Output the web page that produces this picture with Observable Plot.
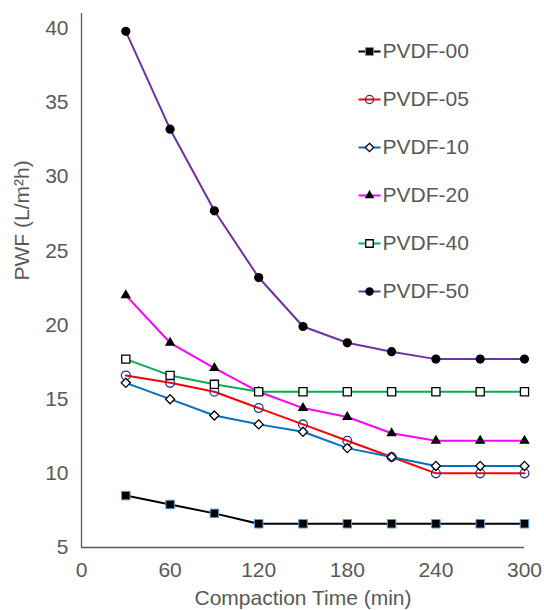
<!DOCTYPE html>
<html>
<head>
<meta charset="utf-8">
<script src="https://cdn.jsdelivr.net/npm/d3@7"></script>
<script src="https://cdn.jsdelivr.net/npm/@observablehq/plot@0.6"></script>
<style>
  html, body { margin: 0; padding: 0; background: #fff; }
  #chart { width: 544px; height: 610px; }
</style>
</head>
<body>
<div id="chart"></div>
<script>
const time = [30, 60, 90, 120, 150, 180, 210, 240, 270, 300];
const pvdf00 = [8.5, 7.9, 7.3, 6.6, 6.6, 6.6, 6.6, 6.6, 6.6, 6.6];
const pvdf05 = [16.6, 16.1, 15.5, 14.4, 13.3, 12.2, 11.1, 10.0, 10.0, 10.0];
const pvdf10 = [16.1, 15.0, 13.9, 13.3, 12.8, 11.7, 11.1, 10.5, 10.5, 10.5];
const pvdf20 = [22.0, 18.8, 17.1, 15.5, 14.4, 13.8, 12.7, 12.2, 12.2, 12.2];
const pvdf40 = [17.7, 16.6, 16.0, 15.5, 15.5, 15.5, 15.5, 15.5, 15.5, 15.5];
const pvdf50 = [39.8, 33.2, 27.7, 23.2, 19.9, 18.8, 18.2, 17.7, 17.7, 17.7];
const seriesNames = ["PVDF-00", "PVDF-05", "PVDF-10", "PVDF-20", "PVDF-40", "PVDF-50"];
const seriesValues = [pvdf00, pvdf05, pvdf10, pvdf20, pvdf40, pvdf50];
const xTicks = [0, 60, 120, 180, 240, 300];
const yTicks = [5, 10, 15, 20, 25, 30, 35, 40];

const styles = [
  {line: "#000000", symbol: "square",   r: 4.8, fill: "#000000", stroke: "#5b9bd5", sw: 1},
  {line: "#ff0000", symbol: "circle",   r: 4.4, fill: "none",    stroke: "#1f3a93", sw: 1.3},
  {line: "#0070c0", symbol: "diamond2", r: 4.1, fill: "white",   stroke: "#000000", sw: 1.3},
  {line: "#ff00ff", symbol: "triangle", r: 3.9, fill: "#000000", stroke: "none",    sw: 0},
  {line: "#00b050", symbol: "square",   r: 4.6, fill: "white",   stroke: "#000000", sw: 1.3},
  {line: "#7030a0", symbol: "circle",   r: 4.6, fill: "#000000", stroke: "none",    sw: 0}
];

const data = seriesNames.flatMap((name, i) =>
  time.map((t, j) => ({series: name, idx: i, time: t, pwf: seriesValues[i][j]})));

const FONT = "'Liberation Sans', Arial, sans-serif";
const GRAY = "#595959";
const FS = 21;

const legendLine = {draw(ctx) { ctx.moveTo(-11, 0); ctx.lineTo(11, 0); }};

const seriesMarks = seriesNames.flatMap((name, i) => {
  const s = styles[i];
  const d = data.filter(r => r.idx === i);
  return [
    Plot.line(d, {x: "time", y: "pwf", stroke: s.line, strokeWidth: 2}),
    Plot.dot(d, {x: "time", y: "pwf", symbol: s.symbol, r: s.r,
      fill: s.fill, stroke: s.stroke, strokeWidth: s.sw})
  ];
});

const legendMarks = seriesNames.flatMap((name, i) => {
  const s = styles[i];
  const dy = 38 + i * 48;
  return [
    Plot.dot([name], {frameAnchor: "top-left", dx: 288, dy, symbol: legendLine, stroke: s.line, strokeWidth: 2, r: 1}),
    Plot.dot([name], {frameAnchor: "top-left", dx: 288, dy, symbol: s.symbol, r: s.r * 0.92,
      fill: s.fill, stroke: s.stroke, strokeWidth: s.sw}),
    Plot.text([name], {frameAnchor: "top-left", dx: 301, dy, text: d => d, textAnchor: "start",
      lineAnchor: "middle", fontSize: FS, fill: GRAY, fontFamily: FONT})
  ];
});

const chart = Plot.plot({
  width: 544,
  height: 610,
  marginLeft: 81,
  marginRight: 20,
  marginTop: 13,
  marginBottom: 63,
  style: {fontFamily: FONT, color: GRAY, background: "white", overflow: "visible"},
  x: {domain: [0, 300]},
  y: {domain: [5, 41]},
  marks: [
    Plot.axisX({ticks: xTicks, tickSize: 0, tickPadding: 15, fontSize: FS, label: null, fill: GRAY}),
    Plot.axisY({ticks: yTicks, tickSize: 0, tickPadding: 13, fontSize: FS, label: null, fill: GRAY}),
    Plot.ruleX([0], {stroke: GRAY, strokeWidth: 1.3}),
    Plot.ruleY([5], {stroke: GRAY, strokeWidth: 1.3}),
    Plot.text(["Compaction Time (min)"], {frameAnchor: "bottom", dy: 51, lineAnchor: "middle", text: d => d, fontSize: FS, fill: GRAY, fontFamily: FONT}),
    Plot.text(["PWF (L/m²h)"], {frameAnchor: "left", dx: -59, rotate: -90, lineAnchor: "middle", text: d => d, fontSize: FS, fill: GRAY, fontFamily: FONT}),
    ...seriesMarks,
    ...legendMarks
  ]
});
document.getElementById("chart").append(chart);
</script>
</body>
</html>
